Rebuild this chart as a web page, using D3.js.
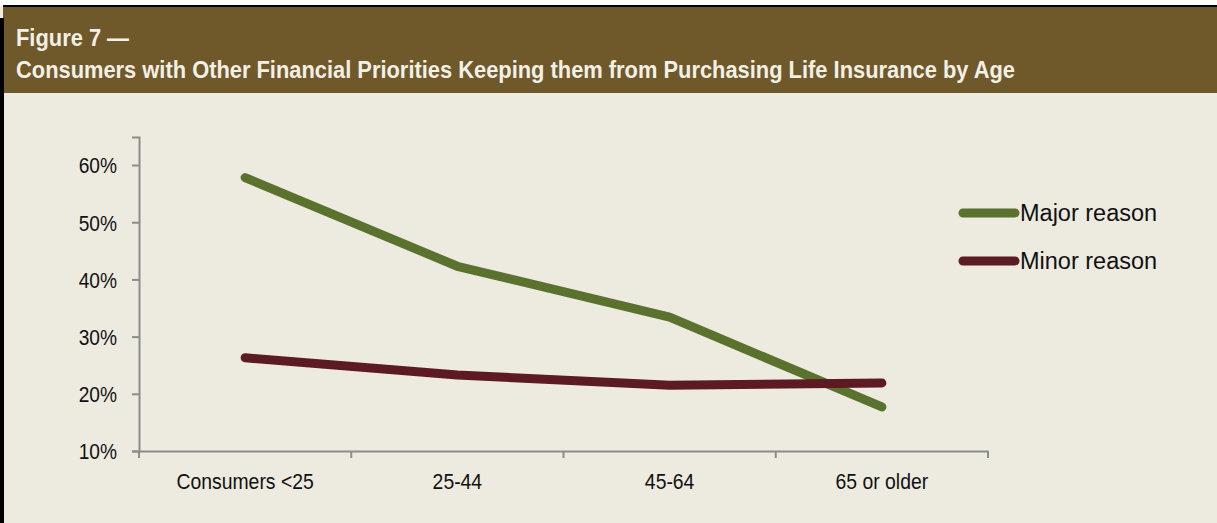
<!DOCTYPE html>
<html><head><meta charset="utf-8">
<script src="https://cdn.jsdelivr.net/npm/d3@7"></script>
<style>
html,body{margin:0;padding:0;background:#fff;}
svg{display:block;}
</style></head>
<body>
<svg id="chart" width="1217" height="523"></svg>
<script>
const categories = ["Consumers <25", "25-44", "45-64", "65 or older"];
const majorReason = [57.8, 42.3, 33.4, 17.7];
const minorReason = [26.3, 23.3, 21.5, 21.9];
const seriesNames = ["Major reason", "Minor reason"];
const seriesColors = ["#5a722e", "#5c1a22"];
const yTicks = [10, 20, 30, 40, 50, 60];
const titleLines = ["Figure 7 \u2014", "Consumers with Other Financial Priorities Keeping them from Purchasing Life Insurance by Age"];

const svg = d3.select("#chart");
const W = 1217, H = 523;
const font = "'Liberation Sans',Arial,sans-serif";

function condense(sel, f) {
  sel.each(function() {
    const w = this.getComputedTextLength();
    d3.select(this).attr("textLength", w * f).attr("lengthAdjust", "spacingAndGlyphs");
  });
}

// frame
svg.append("rect").attr("x",0).attr("y",0).attr("width",W).attr("height",H).attr("fill","#fff");
svg.append("rect").attr("x",0).attr("y",6).attr("width",W).attr("height",H-6).attr("fill","#edeae0");
svg.append("rect").attr("x",3).attr("y",6).attr("width",W-3).attr("height",87).attr("fill","#6f592b");
svg.append("rect").attr("x",3).attr("y",5).attr("width",W-3).attr("height",2).attr("fill","#000");
svg.append("rect").attr("x",0).attr("y",18).attr("width",4).attr("height",H-18).attr("fill","#000");

// title
const t1 = svg.append("text").attr("x",16).attr("y",46).text(titleLines[0])
  .attr("font-family",font).attr("font-weight","bold").attr("font-size",24).attr("fill","#f3f0e6");
const t2 = svg.append("text").attr("x",16).attr("y",78).text(titleLines[1])
  .attr("font-family",font).attr("font-weight","bold").attr("font-size",24).attr("fill","#f3f0e6");
const tf = 999 / t2.node().getComputedTextLength();
condense(t1, tf); condense(t2, tf);

// scales
const x = d3.scaleBand().domain(categories).range([139, 988]);
const y = d3.scaleLinear().domain([10, 64.9]).range([451, 137]);

const axisColor = "#8c8c8c";
// y axis
const gy = svg.append("g").attr("transform","translate(139,0)")
  .call(d3.axisLeft(y).tickValues(yTicks).tickSize(7).tickPadding(15).tickFormat(d => d + "%"));
gy.select(".domain").attr("stroke",axisColor).attr("stroke-width",2);
gy.selectAll(".tick line").attr("stroke",axisColor).attr("stroke-width",2);
gy.selectAll(".tick text").attr("font-family",font).attr("font-size",22).attr("fill","#111").attr("dy","0.36em");
condense(gy.selectAll(".tick text"), 0.87);

// x axis
const gx = svg.append("g").attr("transform","translate(0,451)")
  .call(d3.axisBottom(x).tickSize(0).tickPadding(22));
gx.select(".domain").attr("stroke",axisColor).attr("stroke-width",2);
gx.selectAll(".tick text").attr("font-family",font).attr("font-size",22).attr("fill","#111");
condense(gx.selectAll(".tick text"), 0.88);
// boundary ticks
const bounds = categories.map(c => x(c)).concat([x(categories[categories.length-1]) + x.bandwidth()]);
gx.selectAll(".btick").data(bounds).enter().append("line")
  .attr("x1",d=>d).attr("x2",d=>d).attr("y1",0).attr("y2",7)
  .attr("stroke",axisColor).attr("stroke-width",2);

// lines
const line = d3.line().x((d,i) => x(categories[i]) + x.bandwidth()/2).y(d => y(d));
[majorReason, minorReason].forEach((s, k) => {
  svg.append("path").datum(s).attr("d", line).attr("fill","none")
    .attr("stroke", seriesColors[k]).attr("stroke-width",9)
    .attr("stroke-linecap","round").attr("stroke-linejoin","round");
});

// legend
const lg = svg.append("g");
seriesNames.forEach((n, k) => {
  const ly = 213 + k*48;
  lg.append("line").attr("x1",963).attr("x2",1015).attr("y1",ly).attr("y2",ly)
    .attr("stroke",seriesColors[k]).attr("stroke-width",9).attr("stroke-linecap","round");
  lg.append("text").attr("x",1020).attr("y",ly+8).text(n)
    .attr("font-family",font).attr("font-size",23.5).attr("fill","#111");
});
</script>
</body></html>
